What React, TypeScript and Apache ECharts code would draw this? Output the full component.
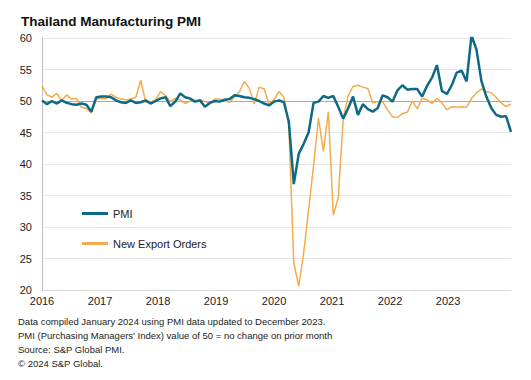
import { useEffect, useRef } from 'react';
import * as echarts from 'echarts';

const yearLabels = ['2016', '2017', '2018', '2019', '2020', '2021', '2022', '2023'];
const monthsPerLabel = 11.75;

const pmiValues = [
  50.1, 49.5, 50.0, 49.6, 50.1, 49.7, 49.5, 49.4, 49.6, 49.4, 48.3, 50.6,
  50.7, 50.7, 50.6, 50.1, 49.8, 49.7, 50.1, 49.7, 49.8, 50.1, 49.6, 50.0,
  50.4, 50.6, 49.2, 49.9, 51.2, 50.6, 50.4, 49.9, 50.1, 49.1, 49.7, 50.0,
  49.9, 50.2, 50.3, 50.9, 50.8, 50.6, 50.5, 50.3, 50.0, 49.6, 49.3, 49.9,
  50.1, 49.8, 46.7, 36.8, 41.6, 43.2, 45.0, 49.7, 49.9, 50.8, 50.5, 50.8,
  49.1, 47.2, 48.8, 50.7, 47.8, 49.5, 48.7, 48.3, 48.9, 50.9, 50.6, 49.9,
  51.7, 52.5, 51.8, 51.9, 51.9, 50.7, 52.4, 53.7, 55.7, 51.6, 51.1, 52.5,
  54.5, 54.8, 53.1, 60.4, 58.2, 53.2, 50.7, 48.9, 47.8, 47.5, 47.6, 45.1,
];

const exportOrderValues = [
  52.4, 51.0, 50.6, 51.2, 50.1, 51.0, 50.3, 50.4, 49.0, 48.8, 48.1, 50.3,
  50.4, 50.4, 51.1, 50.6, 50.3, 50.2, 50.3, 50.6, 53.3, 49.8, 49.8, 50.2,
  51.5, 50.9, 49.9, 50.4, 50.2, 49.6, 50.0, 50.1, 50.2, 49.9, 49.6, 50.3,
  50.3, 50.0, 49.8, 50.6, 51.5, 53.1, 52.0, 49.5, 52.2, 51.9, 49.5, 50.2,
  51.5, 50.6, 46.0, 24.3, 20.6, 25.9, 32.7, 39.7, 47.3, 42.0, 48.3, 31.9,
  34.6, 47.0, 50.8, 52.3, 52.5, 52.2, 52.0, 49.7, 49.9, 49.9, 48.6, 47.5,
  47.4, 48.0, 48.2, 50.0, 48.8, 50.4, 50.2, 49.6, 50.4, 49.7, 48.6, 49.1,
  49.0, 49.1, 49.0, 50.4, 51.3, 51.9, 51.5, 51.3, 50.6, 49.7, 49.1, 49.5,
];

const seriesNames = ['PMI', 'New Export Orders'];
const footnotes = [
  'Data compiled January 2024 using PMI data updated to December 2023.',
  "PMI (Purchasing Managers' Index) value of 50 = no change on prior month",
  'Source: S&P Global PMI.',
  '\u00a9 2024 S&P Global.',
];

const FONT = '"Liberation Sans", Arial, sans-serif';

export default function App() {
  const ref = useRef<HTMLDivElement>(null);
  useEffect(() => {
    if (!ref.current) return;
    const chart = echarts.init(ref.current, null, { renderer: 'svg' });
    const toPairs = (arr: number[]) => arr.map((v, i) => [i, v]);
    chart.setOption({
      animation: false,
      backgroundColor: '#ffffff',
      textStyle: { fontFamily: FONT },
      title: {
        text: 'Thailand Manufacturing PMI',
        left: 16,
        top: 9,
        textStyle: { fontSize: 13.5, fontWeight: 'bold', color: '#111', fontFamily: FONT },
      },
      grid: { left: 42, right: 20, top: 38, bottom: 90, containLabel: false },
      legend: {
        orient: 'vertical',
        left: 77,
        top: 203,
        itemWidth: 26,
        itemHeight: 3,
        itemGap: 19,
        icon: 'rect',
        data: seriesNames,
        textStyle: { fontSize: 11, color: '#222', fontFamily: FONT },
      },
      xAxis: {
        type: 'value',
        min: 0,
        max: pmiValues.length - 1,
        interval: monthsPerLabel,
        axisLine: { show: true, lineStyle: { color: '#d9d9d9', width: 1 } },
        axisTick: { show: false },
        splitLine: { show: false },
        axisLabel: {
          fontSize: 11,
          color: '#222',
          margin: 5,
          showMaxLabel: false,
          formatter: (v: number) => yearLabels[Math.round(v / monthsPerLabel)] ?? '',
        },
      },
      yAxis: {
        type: 'value',
        min: 20,
        max: 60,
        interval: 5,
        axisLine: { show: true, lineStyle: { color: '#bfbfbf', width: 1 } },
        axisTick: { show: false },
        axisLabel: { fontSize: 11, color: '#222', margin: 10 },
        splitLine: { show: true, lineStyle: { color: '#e6e6e6', width: 1 } },
      },
      series: [
        {
          name: seriesNames[0],
          type: 'line',
          data: toPairs(pmiValues),
          symbol: 'none',
          z: 4,
          color: '#0e6a84',
          lineStyle: { width: 2.5, color: '#0e6a84' },
        },
        {
          name: seriesNames[1],
          type: 'line',
          data: toPairs(exportOrderValues),
          symbol: 'none',
          z: 3,
          color: '#f4ab4e',
          lineStyle: { width: 1.5, color: '#f4ab4e' },
          markLine: {
            silent: true,
            z: 1,
            symbol: 'none',
            label: { show: false },
            lineStyle: { color: '#a8a8a8', width: 1, type: 'solid' },
            data: [{ yAxis: 50 }],
          },
        },
      ],
      graphic: footnotes.map((t, i) => ({
        type: 'text',
        left: 18,
        top: 316 + i * 14,
        style: { text: t, font: `9.5px ${FONT}`, fill: '#222' },
      })),
    });
    return () => chart.dispose();
  }, []);
  return (
    <div
      ref={ref}
      style={{ position: 'fixed', left: 0, top: 0, width: 531, height: 380, background: '#fff' }}
    />
  );
}
